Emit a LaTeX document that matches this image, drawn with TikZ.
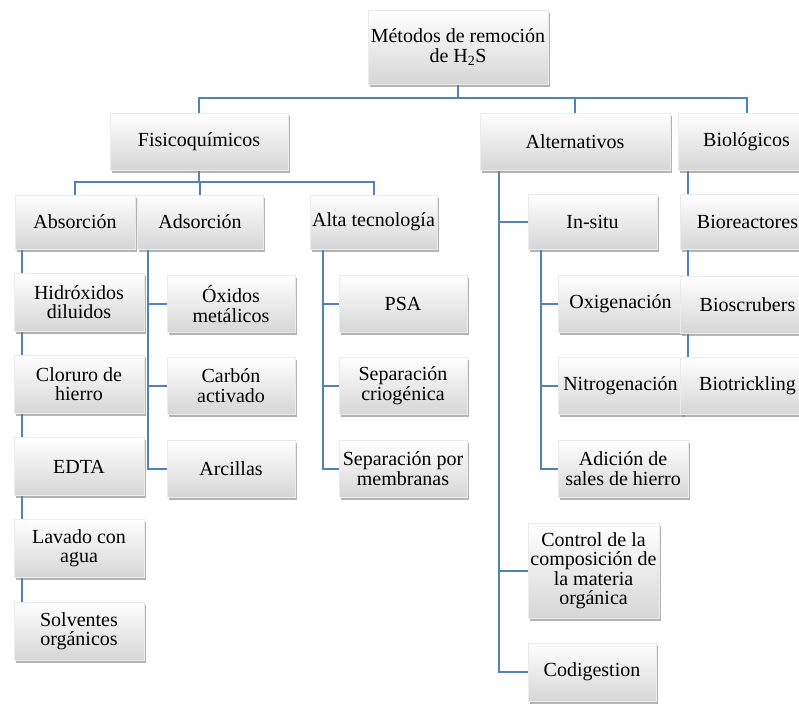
\documentclass[tikz,border=0pt]{standalone}
\usepackage{fontspec}
\setmainfont{Liberation Serif}
\usetikzlibrary{shadows,backgrounds}
\definecolor{linkblue}{HTML}{4F81BD}
\begin{document}
\begin{tikzpicture}[x=1pt, y=-1pt,
    box/.style={rectangle, inner sep=1pt, align=center, top color=white, bottom color=black!16,
      draw=black!8, drop shadow={shadow xshift=1.5pt, shadow yshift=-2.5pt, opacity=.6},
      minimum width=128, minimum height=57, font=\fontsize{20}{19.5}\selectfont},
    link/.style={draw=linkblue, line width=2pt}]
    \useasboundingbox (0,0) rectangle (799,704);
    \node[box, minimum width=180, minimum height=74] (root) at (458,47) {Métodos de remoción\\de H\textsubscript{2}S};
    \node[box, minimum width=178] (fis) at (199,141.5) {Fisicoquímicos};
    \node[box, minimum width=190] (alt) at (575,141.5) {Alternativos};
    \node[box, minimum width=120, minimum height=54] (abs) at (75,222) {Absorción};
    \node[box, minimum width=126, minimum height=54] (ads) at (200,222) {Adsorción};
    \node[box, minimum width=127, minimum height=54] (alta) at (373.5,222) {Alta tecnología};
    \node[box, minimum width=129, minimum height=55] (insitu) at (592.5,222) {In-situ};
    \node[box, minimum width=130, minimum height=58] (hidr) at (79,302) {Hidróxidos\\diluidos};
    \node[box, minimum width=130, minimum height=58] (clor) at (79,384) {Cloruro de\\hierro};
    \node[box, minimum width=130, minimum height=58] (edta) at (79,466.5) {EDTA};
    \node[box, minimum width=130, minimum height=58] (lav) at (79,548) {Lavado con\\agua};
    \node[box, minimum width=130, minimum height=58] (solv) at (79,631) {Solventes\\orgánicos};
    \node[box] (oxid) at (231,304) {Óxidos\\metálicos};
    \node[box] (carb) at (231,385.5) {Carbón\\activado};
    \node[box] (arc) at (231,468.5) {Arcillas};
    \node[box] (psa) at (403,304) {PSA};
    \node[box] (crio) at (403,385.5) {Separación\\criogénica};
    \node[box] (memb) at (403,468.5) {Separación por\\membranas};
    \node[box, minimum width=125] (oxig) at (620.5,304) {Oxigenación};
    \node[box, minimum width=125] (nitro) at (620.5,385.5) {Nitrogenación};
    \node[box, minimum width=130] (adic) at (623,468.5) {Adición de\\sales de hierro};
    \node[box, minimum width=131, minimum height=95] (ctrl) at (593.5,570.5) {Control de la\\composición de\\la materia\\orgánica};
    \node[box, minimum height=58] (codig) at (592,672) {Codigestion};
    \node[box, minimum width=137] (bio) at (746.5,141.5) {Biológicos};
    \node[box, minimum width=135, minimum height=55] (bioreac) at (747.5,222) {Bioreactores};
    \node[box, minimum width=135] (biosc) at (747.5,304.5) {Bioscrubers};
    \node[box, minimum width=135] (biotr) at (747.5,385.5) {Biotrickling};
    \begin{scope}[on background layer]
      \coordinate (topbus) at (460,98);
      \coordinate (fisbus) at (200,182);
      \coordinate (absline) at ([xshift=7pt]abs.south west);
      \coordinate (adsline) at ([xshift=11pt]ads.south west);
      \coordinate (altaline) at ([xshift=13pt]alta.south west);
      \coordinate (altline) at ([xshift=19pt]alt.south west);
      \coordinate (insituline) at ([xshift=13pt]insitu.south west);
      \coordinate (bioline) at ([xshift=10pt]bio.south west);
      \draw[link] (root.south) -- (root.south |- topbus);
      \draw[link] (fis.north) |- (topbus) -| (bio.north);
      \draw[link] (alt.north) -- (alt.north |- topbus);
      \draw[link] (fis.south) -- (fis.south |- fisbus);
      \draw[link] (abs.north) |- (fisbus) -| (alta.north);
      \draw[link] (ads.north) -- (ads.north |- fisbus);
      \draw[link] (absline) -- (absline |- solv.north);
      \draw[link] (bioline) -- (bioline |- biotr.north);
      \foreach \c in {oxid, carb, arc}
        \draw[link] (adsline) |- (\c.west);
      \foreach \c in {psa, crio, memb}
        \draw[link] (altaline) |- (\c.west);
      \foreach \c in {insitu, ctrl, codig}
        \draw[link] (altline) |- (\c.west);
      \foreach \c in {oxig, nitro, adic}
        \draw[link] (insituline) |- (\c.west);
    \end{scope}
  \end{tikzpicture}
\end{document}
